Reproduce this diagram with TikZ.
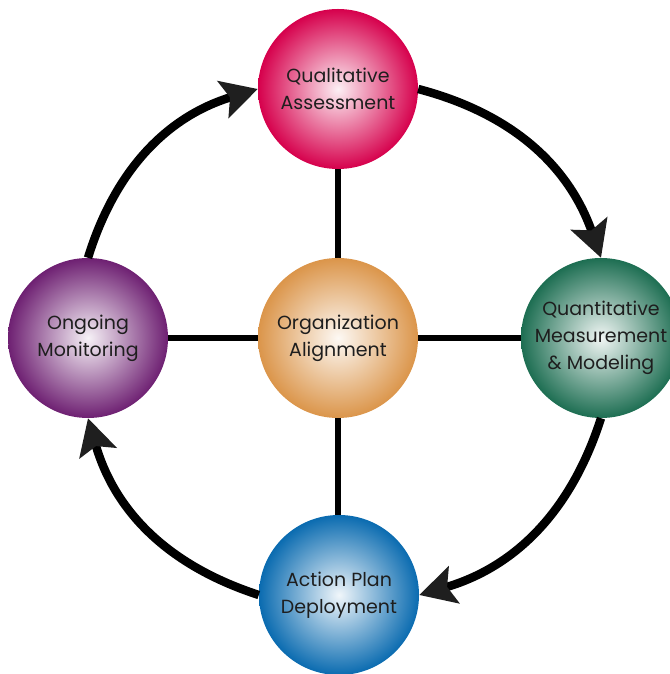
\documentclass[tikz,border=0pt]{standalone}
\usepackage{fontspec}
\setmainfont{Poppins}
\usetikzlibrary{
  arrows.meta,
}

\definecolor{qualred}{HTML}{D6004C}
\definecolor{quantgreen}{HTML}{1D6E52}
\definecolor{deployblue}{HTML}{0A6BB0}
\definecolor{monpurple}{HTML}{6E2072}
\definecolor{alignorange}{HTML}{DB954A}
\definecolor{textgray}{HTML}{1E1E1E}

\tikzset{
  ball/.style={circle, minimum size=160pt, inner sep=0pt, shading=radial,
    inner color=#1!6, outer color=#1, text=textgray, align=center,
    font=\fontsize{19}{27}\selectfont},
  spoke/.style={line width=6pt, black},
  flow/.style={line width=8.5pt, black, bend left=28,
    -{Stealth[length=36pt, width=38pt, inset=7pt, color=black!88]}},
}

\begin{document}
\begin{tikzpicture}[x=1pt, y=1pt]
\useasboundingbox (0,0) rectangle (669,674);

% spokes first, circles on top
\coordinate (c) at (338,336);
\draw[spoke] (c) -- ++(0,250);
\draw[spoke] (c) -- ++(0,-250);
\draw[spoke] (c) -- ++(-250,0);
\draw[spoke] (c) -- ++(263,0);

\node[ball=alignorange] (align) at (c) {Organization\\Alignment};
\node[ball=qualred] (qual) at (338,585) {Qualitative\\Assessment};
\node[ball=quantgreen] (quant) at (601,336) {Quantitative\\Measurement\\\& Modeling};
\node[ball=deployblue] (deploy) at (339,79) {Action Plan\\Deployment};
\node[ball=monpurple] (mon) at (88,336) {Ongoing\\Monitoring};

% cycle
\draw[flow] (mon.north) to (qual.west);
\draw[flow] (qual.east) to (quant.north);
\draw[flow] (quant.south) to (deploy.east);
\draw[flow] (deploy.west) to (mon.south);
\end{tikzpicture}
\end{document}
